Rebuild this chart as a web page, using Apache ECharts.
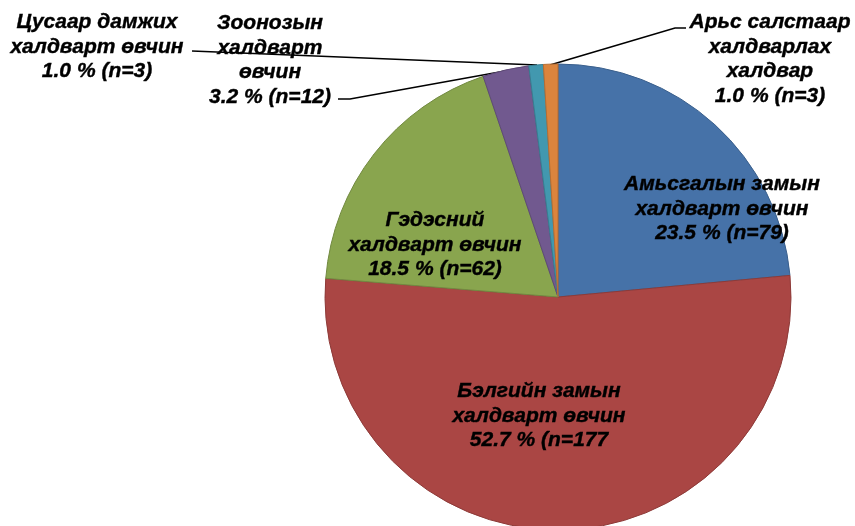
<!DOCTYPE html>
<html><head><meta charset="utf-8">
<script src="https://cdn.jsdelivr.net/npm/echarts@6/dist/echarts.min.js"></script>
<style>html,body{margin:0;padding:0;background:#fff}#c{width:855px;height:526px}</style>
</head><body><div id="c"></div>
<script>
const categories = ['Амьсгалын замын халдварт өвчин','Бэлгийн замын халдварт өвчин','Гэдэсний халдварт өвчин','Зоонозын халдварт өвчин','Цусаар дамжих халдварт өвчин','Арьс салстаар халдварлах халдвар'];
const percents = [23.5, 52.7, 18.5, 3.2, 1.0, 1.0];
const counts = [79, 177, 62, 12, 3, 3];
const labelTexts = [
  'Амьсгалын замын\nхалдварт өвчин\n23.5 % (n=79)',
  'Бэлгийн замын\nхалдварт өвчин\n52.7 % (n=177',
  'Гэдэсний\nхалдварт өвчин\n18.5 % (n=62)',
  'Зоонозын\nхалдварт\nөвчин\n3.2 % (n=12)',
  'Цусаар дамжих\nхалдварт өвчин\n1.0 % (n=3)',
  'Арьс салстаар\nхалдварлах\nхалдвар\n1.0 % (n=3)'
];
const colors = ['#4672A8','#AA4644','#89A54E','#71598F','#4298AF','#DB843D'];
const borders = ['#3A5F8C','#8D3A38','#718940','#5D4976','#367E91','#B66D32'];
// label anchor positions (centers) and leader lines
const labelPos = [[722,209],[539,416],[435,245],[270,60],[97,47],[770,59]];
const leader = [null,null,null,
  [[505,71],[350,99],[338,99]],
  [[537,65],[192,51],[192,51]],
  [[550,65],[675,28],[686,28]]];

const chart = echarts.init(document.getElementById('c'));
chart.setOption({
  animation:false,
  series:[{
    type:'pie',
    center:[558,297],
    radius:233,
    startAngle:90,
    clockwise:true,
    avoidLabelOverlap:false,
    data: categories.map((c,i)=>({
      name:c, value:percents[i],
      itemStyle:{color:colors[i], borderColor:borders[i], borderWidth:1},
      label:{formatter:labelTexts[i]},
      labelLine:{show: !!leader[i]}
    })),
    label:{
      show:true, position:'outside',
      fontFamily:'Liberation Sans', fontWeight:'bold', fontStyle:'italic',
      fontSize:21, lineHeight:24.5, color:'#000', align:'center',
      textBorderColor:'#000', textBorderWidth:0.4
    },
    labelLine:{lineStyle:{color:'#000', width:1.6}, smooth:false},
    labelLayout:function(p){
      const i = p.dataIndex;
      const r = {x:labelPos[i][0], y:labelPos[i][1], align:'center', verticalAlign:'middle'};
      if (leader[i]) r.labelLinePoints = leader[i];
      return r;
    }
  }]
});
</script></body></html>
